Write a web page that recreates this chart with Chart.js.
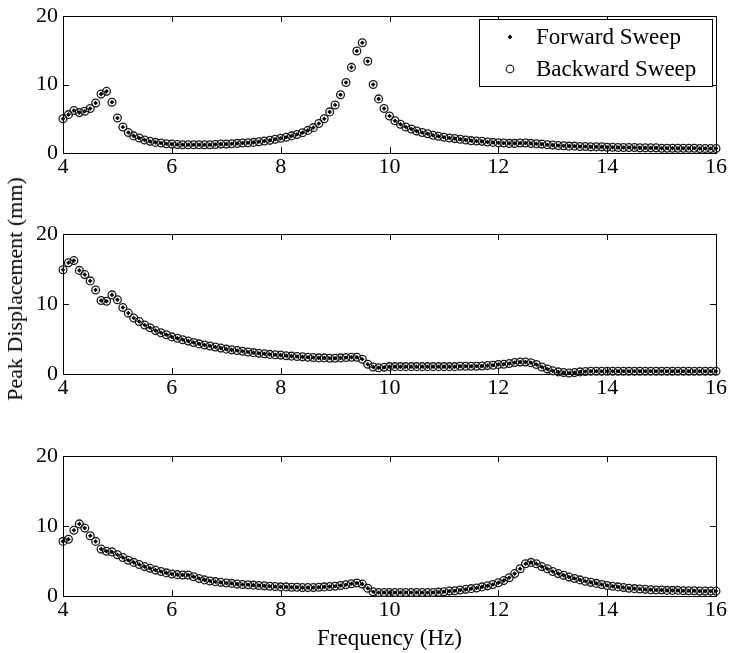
<!DOCTYPE html>
<html><head><meta charset="utf-8">
<script src="https://cdn.jsdelivr.net/npm/chart.js@4"></script>
<style>
html,body{margin:0;padding:0;background:#fff;}
body{width:730px;height:653px;position:relative;overflow:hidden;font-family:"Liberation Serif","Times New Roman",serif;}
canvas{position:absolute;left:0;}
#ylab{position:absolute;left:15px;top:289px;transform:translate(-50%,-50%) rotate(-90deg);font-size:22px;white-space:nowrap;color:#000;line-height:1;}
</style></head><body>
<canvas id="c1" width="730" height="200" style="top:0;width:730px;height:200px"></canvas>
<canvas id="c2" width="730" height="220" style="top:200px;width:730px;height:220px"></canvas>
<canvas id="c3" width="730" height="233" style="top:420px;width:730px;height:233px"></canvas>
<div id="ylab">Peak Displacement (mm)</div>
<script>
const freq = [
4.0,4.1,4.2,4.3,4.4,4.5,4.6,4.7,4.8,4.9,
5.0,5.1,5.2,5.3,5.4,5.5,5.6,5.7,5.8,5.9,
6.0,6.1,6.2,6.3,6.4,6.5,6.6,6.7,6.8,6.9,
7.0,7.1,7.2,7.3,7.4,7.5,7.6,7.7,7.8,7.9,
8.0,8.1,8.2,8.3,8.4,8.5,8.6,8.7,8.8,8.9,
9.0,9.1,9.2,9.3,9.4,9.5,9.6,9.7,9.8,9.9,
10.0,10.1,10.2,10.3,10.4,10.5,10.6,10.7,10.8,10.9,
11.0,11.1,11.2,11.3,11.4,11.5,11.6,11.7,11.8,11.9,
12.0,12.1,12.2,12.3,12.4,12.5,12.6,12.7,12.8,12.9,
13.0,13.1,13.2,13.3,13.4,13.5,13.6,13.7,13.8,13.9,
14.0,14.1,14.2,14.3,14.4,14.5,14.6,14.7,14.8,14.9,
15.0,15.1,15.2,15.3,15.4,15.5,15.6,15.7,15.8,15.9,
16.0];

const forwardTop = [
5.0,5.6,6.2,5.9,6.1,6.5,7.3,8.6,9.0,7.4,
5.1,3.8,3.0,2.5,2.2,1.9,1.7,1.55,1.45,1.35,
1.3,1.25,1.2,1.2,1.2,1.2,1.2,1.2,1.25,1.3,
1.3,1.35,1.4,1.45,1.5,1.55,1.65,1.75,1.85,2.0,
2.15,2.3,2.5,2.7,2.95,3.3,3.7,4.3,5.0,6.0,
7.0,8.5,10.3,12.5,14.9,16.1,13.4,10.0,7.9,6.5,
5.4,4.7,4.2,3.8,3.5,3.2,3.0,2.8,2.6,2.45,
2.3,2.2,2.1,2.0,1.9,1.8,1.75,1.7,1.6,1.55,
1.5,1.45,1.4,1.4,1.45,1.45,1.4,1.35,1.3,1.2,
1.15,1.1,1.05,1.0,1.0,0.95,0.95,0.9,0.9,0.9,
0.85,0.85,0.8,0.8,0.8,0.8,0.75,0.75,0.75,0.75,
0.7,0.7,0.7,0.7,0.7,0.7,0.7,0.65,0.65,0.65,
0.65];

const forwardMiddle = [
14.9,15.9,16.2,14.8,14.2,13.3,12.0,10.5,10.4,11.3,
10.6,9.5,8.7,8.0,7.5,7.0,6.6,6.2,5.9,5.6,
5.3,5.1,4.9,4.7,4.5,4.3,4.15,4.0,3.85,3.7,
3.55,3.45,3.35,3.25,3.15,3.05,2.95,2.9,2.8,2.75,
2.7,2.6,2.55,2.5,2.45,2.4,2.35,2.3,2.3,2.25,
2.25,2.3,2.35,2.4,2.4,2.1,1.4,1.0,0.9,0.95,
1.05,1.05,1.05,1.05,1.05,1.05,1.05,1.05,1.05,1.05,
1.05,1.05,1.05,1.1,1.1,1.1,1.1,1.15,1.2,1.25,
1.35,1.4,1.5,1.65,1.7,1.7,1.6,1.35,1.0,0.7,
0.45,0.3,0.2,0.15,0.2,0.3,0.35,0.4,0.4,0.4,
0.4,0.4,0.4,0.4,0.4,0.4,0.4,0.4,0.4,0.4,
0.4,0.4,0.4,0.4,0.4,0.4,0.4,0.4,0.4,0.4,
0.4];

const forwardBottom = [
7.8,8.1,9.4,10.3,9.7,8.6,7.8,6.7,6.4,6.3,
5.9,5.5,5.1,4.8,4.5,4.2,3.95,3.7,3.5,3.3,
3.15,3.05,3.0,3.0,2.75,2.5,2.3,2.15,2.05,1.95,
1.85,1.8,1.7,1.65,1.6,1.55,1.5,1.45,1.4,1.35,
1.3,1.3,1.25,1.25,1.2,1.2,1.2,1.25,1.3,1.35,
1.4,1.5,1.6,1.75,1.85,1.7,1.1,0.6,0.5,0.5,
0.5,0.5,0.5,0.5,0.5,0.5,0.5,0.5,0.5,0.55,
0.6,0.7,0.75,0.85,0.95,1.05,1.15,1.3,1.45,1.65,
1.9,2.2,2.6,3.2,3.9,4.6,4.8,4.6,4.2,3.9,
3.5,3.2,2.95,2.7,2.5,2.3,2.1,1.95,1.8,1.65,
1.5,1.4,1.3,1.2,1.1,1.05,1.0,0.95,0.9,0.85,
0.85,0.8,0.8,0.8,0.75,0.75,0.75,0.7,0.7,0.7,
0.7];

// The backward sweep coincides with the forward sweep in the picture
const backwardTop = forwardTop.slice();
const backwardMiddle = forwardMiddle.slice();
const backwardBottom = forwardBottom.slice();

const xTicks = [4,6,8,10,12,14,16];
const yTicks = [0,10,20];
const seriesLabels = ['Forward Sweep','Backward Sweep'];

const FAMILY = "'Liberation Serif','Times New Roman',serif";

const framePlugin = {
  id: 'frame',
  beforeDatasetsDraw(chart) {
    const {ctx, chartArea: a, scales: {x, y}} = chart;
    ctx.save();
    ctx.strokeStyle = '#000';
    ctx.lineWidth = 1;
    ctx.strokeRect(Math.round(a.left)+0.5, Math.round(a.top)+0.5, Math.round(a.right-a.left), Math.round(a.bottom-a.top));
    ctx.beginPath();
    const L = 6;
    xTicks.forEach(v => {
      const px = Math.round(x.getPixelForValue(v)) + 0.5;
      ctx.moveTo(px, a.bottom); ctx.lineTo(px, a.bottom - L);
      ctx.moveTo(px, a.top); ctx.lineTo(px, a.top + L);
    });
    yTicks.forEach(v => {
      const py = Math.round(y.getPixelForValue(v)) + 0.5;
      ctx.moveTo(a.left, py); ctx.lineTo(a.left + L, py);
      ctx.moveTo(a.right, py); ctx.lineTo(a.right - L, py);
    });
    ctx.stroke();
    ctx.restore();
  }
};

const legendPlugin = {
  id: 'boxLegend',
  afterDraw(chart) {
    const ctx = chart.ctx;
    const bx = 479.5, by = 19.5, bw = 233, bh = 67;
    ctx.save();
    ctx.fillStyle = '#fff';
    ctx.fillRect(bx, by, bw, bh);
    ctx.strokeStyle = '#000';
    ctx.lineWidth = 1;
    ctx.strokeRect(bx, by, bw, bh);
    ctx.font = "23px " + FAMILY;
    ctx.fillStyle = '#000';
    ctx.textBaseline = 'middle';
    ctx.textAlign = 'left';
    const rows = [37, 69];
    // forward: small filled diamond
    ctx.beginPath();
    ctx.moveTo(510, rows[0]-2.4); ctx.lineTo(512.4, rows[0]); ctx.lineTo(510, rows[0]+2.4); ctx.lineTo(507.6, rows[0]);
    ctx.closePath(); ctx.fill();
    // backward: open circle
    ctx.strokeStyle = '#222';
    ctx.lineWidth = 1.2;
    ctx.beginPath(); ctx.arc(510, rows[1], 3.8, 0, Math.PI*2); ctx.stroke();
    ctx.fillText(chart.data.datasets[0].label, 536, rows[0] + 1);
    ctx.fillText(chart.data.datasets[1].label, 536, rows[1] + 1);
    ctx.restore();
  }
};

function makeChart(id, fwd, bwd, o) {
  const tickFont = {family: FAMILY, size: 22, lineHeight: 1};
  const plugins = [framePlugin];
  if (o.legend) plugins.push(legendPlugin);
  return new Chart(document.getElementById(id), {
    type: 'scatter',
    data: {
      datasets: [
        {label: seriesLabels[0], data: freq.map((f,i)=>({x:f, y:fwd[i]})),
         pointStyle:'rectRot', pointRadius:2.3, backgroundColor:'#000', borderColor:'#000', borderWidth:0, clip:false},
        {label: seriesLabels[1], data: freq.map((f,i)=>({x:f, y:bwd[i]})),
         pointStyle:'circle', pointRadius:3.9, backgroundColor:'rgba(0,0,0,0)', borderColor:'#1a1a1a', borderWidth:1.3, clip:false}
      ]
    },
    options: {
      responsive:false, animation:false, events:[],
      layout:{padding:{top:o.top, right:11, left:0, bottom:0}},
      plugins:{legend:{display:false}, tooltip:{enabled:false}, title:{display:false}},
      scales:{
        x:{type:'linear', min:4, max:16,
           afterBuildTicks(s){ s.ticks = xTicks.map(v=>({value:v})); },
           ticks:{color:'#000', font:tickFont, padding:o.xpad, maxRotation:0, autoSkip:false},
           grid:{display:false, drawTicks:false}, border:{display:false},
           title: o.xtitle ? {display:true, text:'Frequency (Hz)', color:'#000', font:{family:FAMILY, size:23, lineHeight:1.2}, padding:{top:0,bottom:0}} : {display:false},
           afterFit(s){ s.height = o.xh; }},
        y:{type:'linear', min:0, max:20,
           afterBuildTicks(s){ s.ticks = yTicks.map(v=>({value:v})); },
           ticks:{color:'#000', font:tickFont, padding:5},
           grid:{display:false, drawTicks:false}, border:{display:false},
           afterFit(s){ s.width = 63; }}
      }
    },
    plugins
  });
}

makeChart('c1', forwardTop, backwardTop, {top:12, xh:47, xpad:3, legend:true});
makeChart('c2', forwardMiddle, backwardMiddle, {top:34, xh:46, xpad:3});
makeChart('c3', forwardBottom, backwardBottom, {top:36, xh:57, xpad:3, xtitle:true});
</script>
</body></html>
